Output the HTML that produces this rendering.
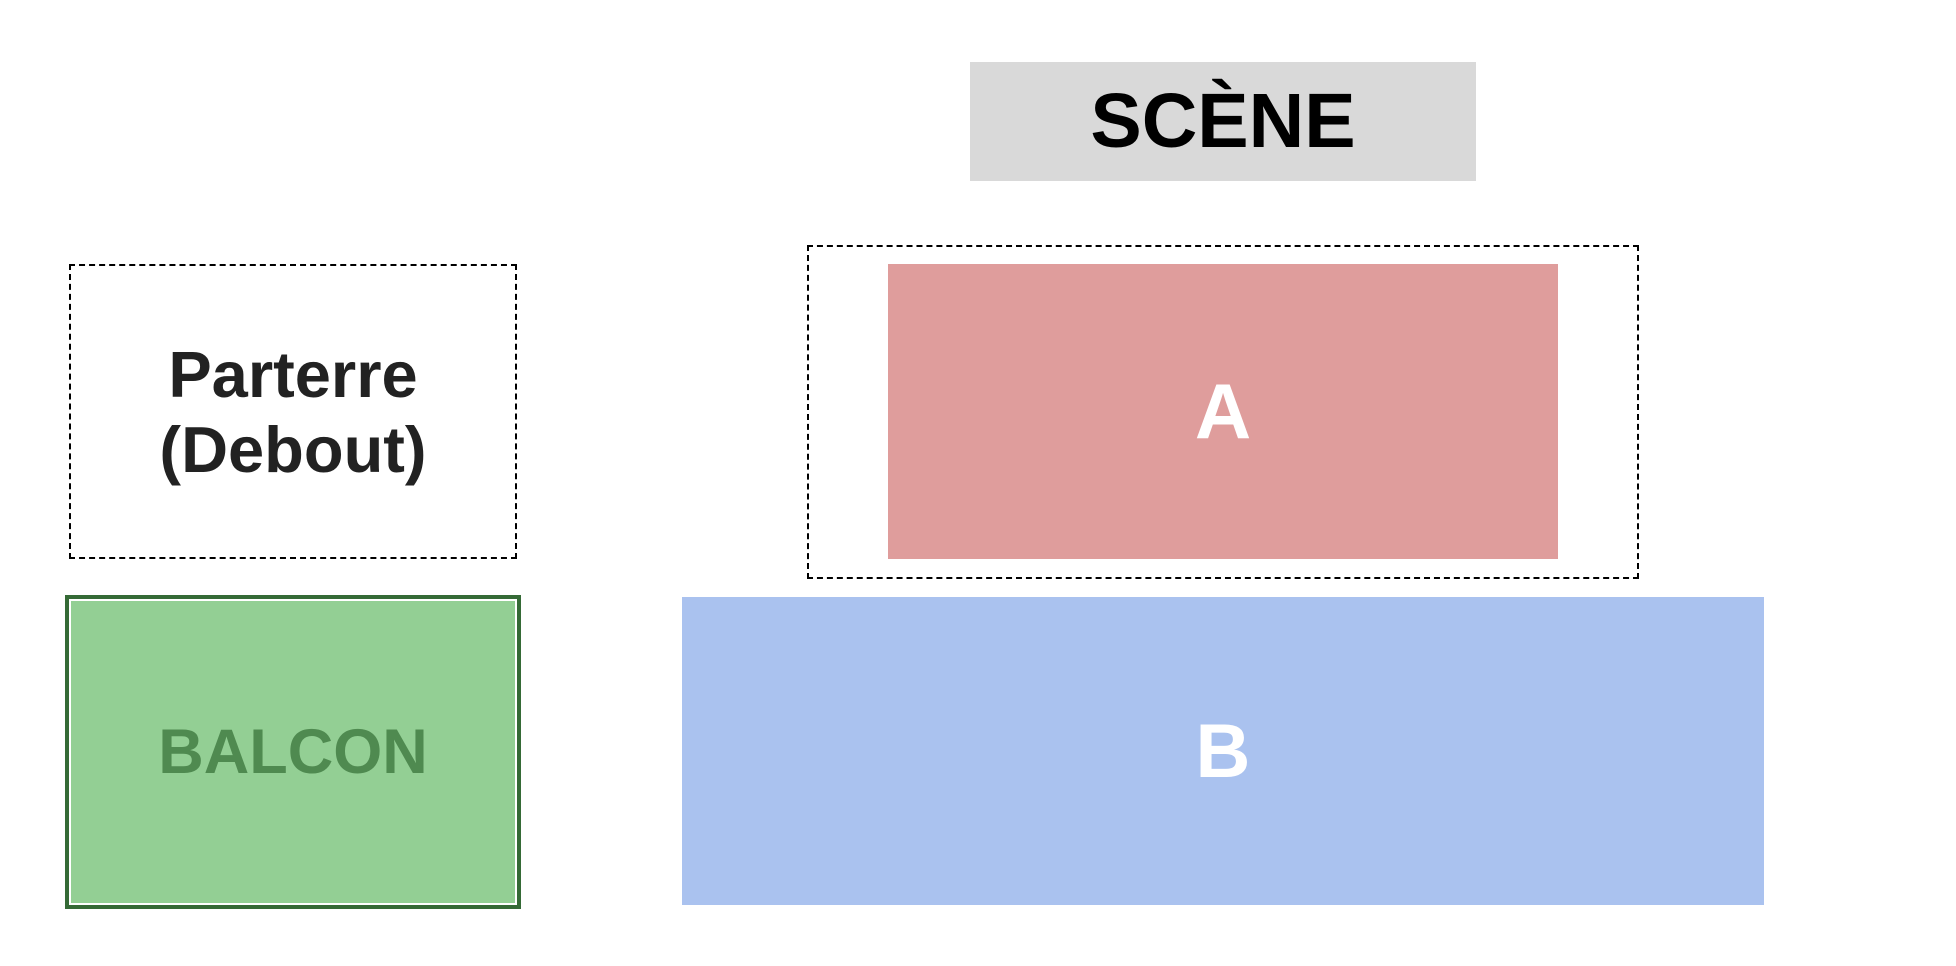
<!DOCTYPE html>
<html><head><meta charset="utf-8"><style>
body{margin:0;width:1956px;height:966px;background:#fff;position:relative;overflow:hidden;font-family:"Liberation Sans",Arial,sans-serif;font-weight:bold}
.b{position:absolute;box-sizing:border-box;display:flex;align-items:center;justify-content:center;text-align:center}
</style></head><body>
<div class="b" style="left:970px;top:62px;width:506px;height:119px;background:#d9d9d9;color:#000;font-size:77px;">SCÈNE</div>
<div class="b" style="left:807px;top:245px;width:832px;height:334px;border:2px dashed #000;"></div>
<div class="b" style="left:888px;top:264px;width:670px;height:295px;background:#df9d9c;color:#fff;font-size:78px;">A</div>
<div class="b" style="left:69px;top:264px;width:448px;height:295px;border:2px dashed #000;color:#222;font-size:65px;line-height:75px;">Parterre<br>(Debout)</div>
<div class="b" style="left:65px;top:595px;width:456px;height:314px;background:#93cf94;border:4px solid #356a36;box-shadow:inset 0 0 0 2px #fff;color:#4f8a50;font-size:63px;">BALCON</div>
<div class="b" style="left:682px;top:597px;width:1082px;height:308px;background:#aac2ef;color:#fff;font-size:76px;">B</div>
</body></html>
